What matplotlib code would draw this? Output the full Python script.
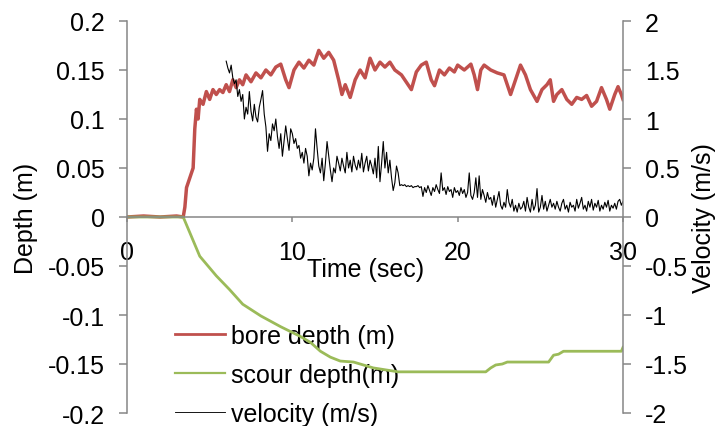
import numpy as np
import matplotlib.pyplot as plt

plt.rcParams['font.family'] = ['Liberation Sans', 'DejaVu Sans']
plt.rcParams['font.size'] = 18

# bore depth (m) - red
t_bore = [0, 1, 2, 3, 3.4, 3.5, 3.6, 3.8, 4.0, 4.1, 4.2, 4.3, 4.4, 4.6, 4.8, 5.0, 5.2, 5.4, 5.6, 5.8,
          6.0, 6.2, 6.4, 6.6, 6.8, 7.0, 7.2, 7.5, 7.8, 8.1, 8.4, 8.7, 9.0, 9.3, 9.6, 9.8, 10.1, 10.4,
          10.7, 11.0, 11.3, 11.6, 11.9, 12.2, 12.5, 12.8, 13.0, 13.2, 13.5, 13.8, 14.1, 14.4, 14.7,
          15.0, 15.3, 15.6, 15.9, 16.2, 16.6, 17.0, 17.2, 17.5, 17.8, 18.1, 18.4, 18.6, 18.9, 19.2,
          19.5, 19.8, 20.0, 20.4, 20.8, 21.0, 21.2, 21.4, 21.6, 22.0, 22.4, 22.8, 23.0, 23.2, 23.5,
          23.8, 24.1, 24.4, 24.8, 25.1, 25.4, 25.6, 25.8, 26.0, 26.3, 26.6, 26.9, 27.2, 27.5, 27.8,
          28.1, 28.4, 28.7, 29.0, 29.2, 29.5, 29.7, 29.9, 30.0]
bore = [0, 0.001, 0.0, 0.001, 0.0, 0.01, 0.03, 0.04, 0.05, 0.09, 0.11, 0.10, 0.12, 0.115, 0.128, 0.12,
        0.13, 0.125, 0.13, 0.127, 0.135, 0.128, 0.14, 0.132, 0.14, 0.135, 0.145, 0.138, 0.147, 0.142,
        0.15, 0.145, 0.153, 0.156, 0.14, 0.132, 0.15, 0.158, 0.152, 0.16, 0.155, 0.17, 0.162, 0.168,
        0.16, 0.14, 0.125, 0.135, 0.122, 0.14, 0.15, 0.142, 0.162, 0.15, 0.158, 0.153, 0.158, 0.15,
        0.145, 0.135, 0.130, 0.148, 0.155, 0.158, 0.14, 0.134, 0.15, 0.145, 0.152, 0.148, 0.155,
        0.15, 0.156, 0.145, 0.130, 0.15, 0.155, 0.15, 0.147, 0.145, 0.135, 0.125, 0.14, 0.155, 0.145,
        0.13, 0.118, 0.13, 0.135, 0.14, 0.118, 0.125, 0.13, 0.12, 0.115, 0.122, 0.12, 0.124, 0.113,
        0.118, 0.132, 0.12, 0.11, 0.125, 0.133, 0.125, 0.12]

# scour depth (m) - green
t_scour = [0, 3.4, 4.4, 5.4, 6.2, 7.0, 8.1, 9.3, 10.5, 11.1, 11.7, 12.3, 12.9, 13.7, 14.9, 16.4,
           21.7, 22.0, 22.3, 22.7, 23.0, 25.5, 25.8, 26.1, 26.4, 29.9, 30.0]
scour = [0, 0, -0.040, -0.060, -0.074, -0.089, -0.101, -0.112, -0.122, -0.128, -0.137, -0.143,
         -0.147, -0.148, -0.154, -0.158, -0.158, -0.154, -0.151, -0.150, -0.148, -0.148, -0.141,
         -0.140, -0.137, -0.137, -0.133]

# velocity (m/s) - black, sampled every 0.1 s from 6.0 s
vel = [1.59, 1.52, 1.47, 1.55, 1.42, 1.36, 1.40, 1.23, 1.30, 1.18,
       1.25, 1.00, 1.12, 1.05, 1.28, 1.08, 0.98, 1.15, 1.02, 0.97,
       1.12, 1.20, 1.29, 1.05, 0.92, 0.67, 0.85, 0.78, 0.95, 0.88,
       1.00, 0.82, 0.70, 0.85, 0.62, 0.78, 0.93, 0.80, 0.68, 0.90,
       0.85, 0.75, 0.80, 0.70, 0.73, 0.60, 0.66, 0.55, 0.70, 0.62,
       0.42, 0.55, 0.48, 0.60, 0.90, 0.70, 0.52, 0.45, 0.60, 0.37,
       0.55, 0.77, 0.62, 0.48, 0.36, 0.50, 0.45, 0.62, 0.55, 0.47,
       0.60, 0.52, 0.45, 0.66, 0.50, 0.58, 0.46, 0.62, 0.53, 0.48,
       0.58, 0.50, 0.65, 0.46, 0.55, 0.62, 0.47, 0.58, 0.52, 0.44,
       0.60, 0.40, 0.72, 0.36, 0.55, 0.77, 0.50, 0.66, 0.45, 0.58,
       0.40, 0.27, 0.35, 0.52, 0.45, 0.32, 0.33, 0.32, 0.33, 0.31,
       0.32, 0.31, 0.32, 0.30, 0.31, 0.31, 0.32, 0.30, 0.31, 0.21,
       0.30, 0.25, 0.32, 0.27, 0.22, 0.30, 0.26, 0.33, 0.28, 0.24,
       0.45, 0.27, 0.30, 0.23, 0.31, 0.26, 0.28, 0.20, 0.30, 0.25,
       0.27, 0.22, 0.30, 0.24, 0.28, 0.20, 0.25, 0.45, 0.22, 0.18,
       0.25, 0.40, 0.20, 0.42, 0.18, 0.28, 0.22, 0.15, 0.25, 0.18,
       0.20, 0.12, 0.22, 0.10, 0.18, 0.26, 0.12, 0.08, 0.15, 0.10,
       0.28, 0.15, 0.10, 0.18, 0.06, 0.12, 0.05, 0.14, 0.08, 0.10,
       0.16, 0.06, 0.20, 0.10, 0.05, 0.18, 0.07, 0.12, 0.29, 0.05,
       0.10, 0.22, 0.08, 0.16, 0.06, 0.12, 0.18, 0.10, 0.14, 0.08,
       0.16, 0.10, 0.06, 0.14, 0.18, 0.08, 0.12, 0.05, 0.15, 0.10,
       0.12, 0.06, 0.18, 0.09, 0.14, 0.20, 0.08, 0.12, 0.06, 0.16,
       0.10, 0.18, 0.07, 0.14, 0.10, 0.17, 0.06, 0.12, 0.08, 0.15,
       0.10, 0.17, 0.06, 0.12, 0.09, 0.14, 0.08, 0.16, 0.18, 0.12,
       0.16]
t_vel = 6.0 + 0.1 * np.arange(len(vel))

depth_ticks = [-0.2, -0.15, -0.1, -0.05, 0, 0.05, 0.1, 0.15, 0.2]
depth_labels = ['-0.2', '-0.15', '-0.1', '-0.05', '0', '0.05', '0.1', '0.15', '0.2']
vel_ticks = [-2, -1.5, -1, -0.5, 0, 0.5, 1, 1.5, 2]
vel_labels = ['-2', '-1.5', '-1', '-0.5', '0', '0.5', '1', '1.5', '2']
time_ticks = [0, 10, 20, 30]

grey = '#868686'

fig = plt.figure(figsize=(7.17, 4.27), dpi=100)
ax = fig.add_axes([127/717, 1 - 414/427, (623-127)/717, (414-22)/427])
ax2 = ax.twinx()

l1, = ax.plot(t_bore, bore, color='#C0504D', lw=2.5, label='bore depth (m)')
l2, = ax.plot(t_scour, scour, color='#9BBB59', lw=2.0, label='scour depth(m)')
l3, = ax2.plot(t_vel, vel, color='black', lw=0.8, label='velocity (m/s)')

ax.set_xlim(0, 30)
ax.set_ylim(-0.2, 0.2)
ax2.set_ylim(-2, 2)

ax.set_yticks(depth_ticks)
ax.set_yticklabels(depth_labels)
ax2.set_yticks(vel_ticks)
ax2.set_yticklabels(vel_labels)
ax.set_xticks(time_ticks)

for a in (ax, ax2):
    for s in a.spines.values():
        s.set_visible(False)
ax.spines['left'].set_visible(True)
ax.spines['bottom'].set_visible(True)
ax.spines['bottom'].set_position(('data', 0))
ax2.spines['right'].set_visible(True)
for s in (ax.spines['left'], ax.spines['bottom'], ax2.spines['right']):
    s.set_color(grey)
    s.set_linewidth(1.1)

ax.tick_params(axis='y', direction='out', length=5.8, width=1.1, color=grey, pad=10)
ax2.tick_params(axis='y', direction='out', length=5.8, width=1.1, color=grey, pad=10)
ax.tick_params(axis='x', direction='out', length=3.6, width=1.1, color=grey, pad=13)

ax.set_ylabel('Depth (m)', labelpad=7)
ax2.set_ylabel('Velocity (m/s)', labelpad=3)
fig.text(366/717, 1 - 270/427, 'Time (sec)', ha='center', va='center', fontsize=18)

leg = ax.legend(handles=[l1, l2, l3], loc='upper left', bbox_to_anchor=(175/717, 1 - 325/427),
                bbox_transform=fig.transFigure, frameon=False, handlelength=2.0,
                handletextpad=0.25, labelspacing=0.6, borderpad=0, borderaxespad=0)
for h in leg.legend_handles:
    h.set_linewidth(h.get_linewidth() * 0.8)
leg.set_zorder(1)

fig.savefig('out.png', dpi=100)
